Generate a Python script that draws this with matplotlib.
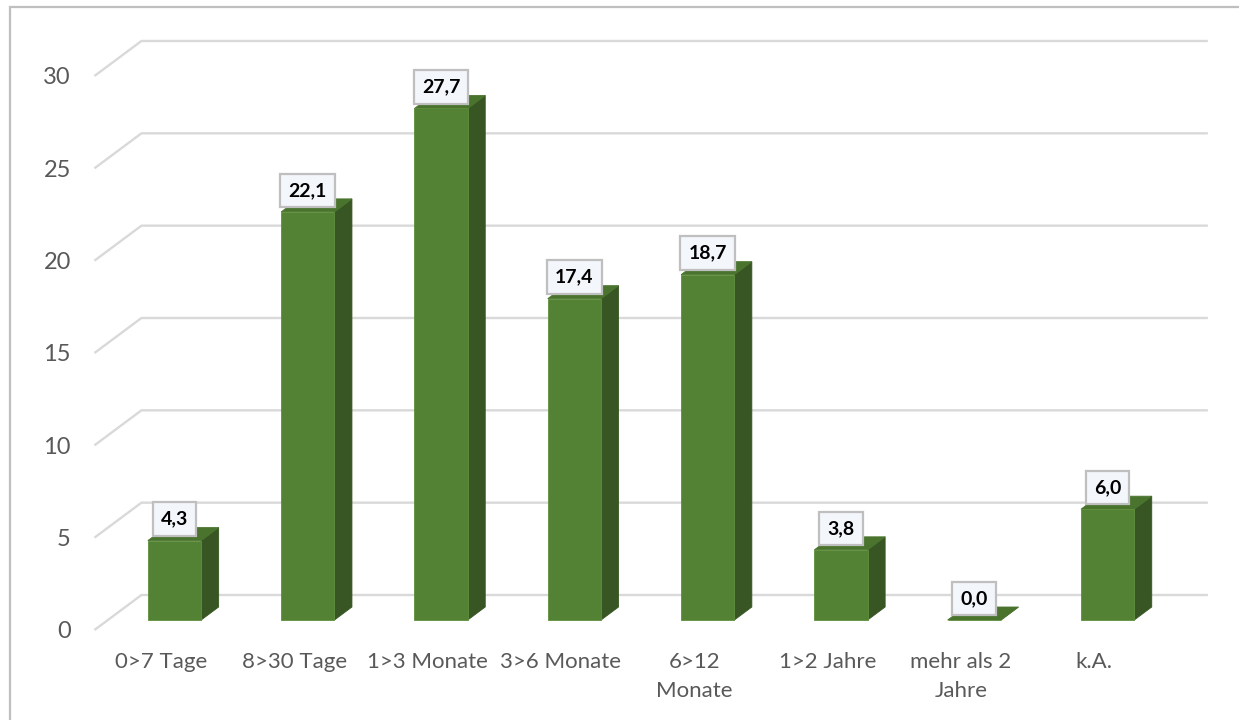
import numpy as np
import matplotlib
matplotlib.use('Agg')
import matplotlib.pyplot as plt
from matplotlib.patches import Polygon, Rectangle

# Verweildauer (Anteil in %)
kategorien = ['0>7 Tage', '8>30 Tage', '1>3 Monate', '3>6 Monate',
              '6>12\nMonate', '1>2 Jahre', 'mehr als 2\nJahre', 'k.A.']
werte = [4.3, 22.1, 27.7, 17.4, 18.7, 3.8, 0.0, 6.0]
y_ticks = [0, 5, 10, 15, 20, 25, 30]

plt.rcParams['font.family'] = ['Lato', 'DejaVu Sans']

W, H = 1239, 720
fig = plt.figure(figsize=(W / 100, H / 100), dpi=100)
fig.patch.set_facecolor('white')

# front plane of the floor, in pixels
px_left, px_right_cat, px_zero, px_per_unit = 94.45, 133.3, 630.0, 18.467
ax = fig.add_axes([px_left / W, (H - px_zero) / H,
                   8 * px_right_cat / W, 30 * px_per_unit / H])
ax.set_xlim(-0.5, 7.5)
ax.set_ylim(0, 30)

# depth of the 3d floor (fraction 1 = back wall) in data units
SX = 47 / px_right_cat
SY = 35 / px_per_unit
z0, z1 = 10 / 35, 23 / 35
breite = 0.4

def p(x, y, z):
    return (x + SX * z, y + SY * z)

# gridlines on side wall and back wall
for v in y_ticks:
    pts = [p(-0.5, v, 0), p(-0.5, v, 1), p(7.5, v, 1)]
    xs, ys = zip(*pts)
    ax.plot(xs, ys, color='#d9d9d9', lw=1.7, clip_on=False, zorder=1,
            solid_capstyle='butt')

front_c = '#548235'
top_c = '#4a742d'
side_c = '#375623'

for i, v in enumerate(werte):
    l, r = i - breite / 2, i + breite / 2
    side = [p(r, 0, z0), p(r, 0, z1), p(r, v, z1), p(r, v, z0)]
    top = [p(l, v, z0), p(r, v, z0), p(r, v, z1), p(l, v, z1)]
    front = [p(l, 0, z0), p(r, 0, z0), p(r, v, z0), p(l, v, z0)]
    ax.add_patch(Polygon(side, closed=True, fc=side_c, ec=side_c, lw=0.6,
                         clip_on=False, zorder=3))
    ax.add_patch(Polygon(top, closed=True, fc=top_c, ec=top_c, lw=0.6,
                         clip_on=False, zorder=3))
    ax.add_patch(Polygon(front, closed=True, fc=front_c, ec='#5e8f3c', lw=0.6,
                         clip_on=False, zorder=4))
    ax.annotate(f'{v:.1f}'.replace('.', ','), xy=p(i, v, z0),
                xytext=(0, 15.5), textcoords='offset points',
                ha='center', va='center', fontsize=14, fontweight='bold',
                color='black', zorder=6, annotation_clip=False,
                bbox=dict(boxstyle='square,pad=0.42', fc='#f3f6fb',
                          ec='#bfbfbf', lw=1.6))

ax.set_yticks(y_ticks)
ax.set_yticklabels([str(t) for t in y_ticks])
ax.set_xticks(range(len(kategorien)))
ax.set_xticklabels(kategorien, linespacing=1.55)
ax.tick_params(axis='both', length=0, colors='#595959', labelsize=16)
ax.tick_params(axis='y', pad=17, labelsize=17)
ax.tick_params(axis='x', pad=16)
for s in ax.spines.values():
    s.set_visible(False)
ax.set_facecolor('none')

# chart area border
fig.patches.append(Rectangle((10 / W, -0.1), 1.2, 1.1 - 7 / H,
                             transform=fig.transFigure, fill=False,
                             ec='#bfbfbf', lw=1.6, zorder=0))

fig.savefig('out.png', dpi=100)
